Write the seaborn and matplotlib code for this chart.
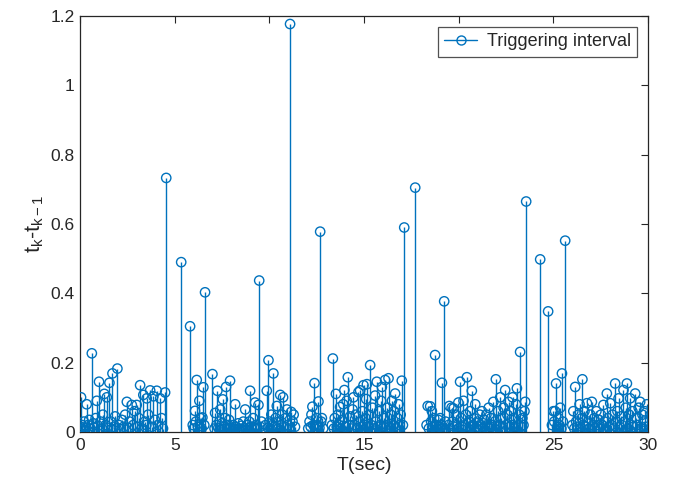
import matplotlib
matplotlib.use("Agg")
import matplotlib.pyplot as plt
from matplotlib.lines import Line2D
from matplotlib.legend_handler import HandlerLine2D
from matplotlib.ticker import FuncFormatter
import numpy as np
import seaborn as sns

t_a = [0.0, 0.03, 0.05, 0.1, 0.15, 0.2, 0.27, 0.35, 0.42, 0.48, 0.55, 0.62, 0.7, 0.76, 0.82, 0.88,
       0.95, 1.0, 1.08, 1.15, 1.2, 1.28, 1.35, 1.41, 1.48, 1.55, 1.62, 1.71, 1.78, 1.85, 1.92, 1.97,
       2.05, 2.12, 2.2, 2.3, 2.38, 2.47, 2.55, 2.62, 2.73, 2.8, 2.88, 2.99, 3.05, 3.1, 3.17, 3.25,
       3.34, 3.42, 3.5, 3.52, 3.6, 3.7, 3.78, 3.87, 3.95, 4.05, 4.12, 4.23, 4.3, 4.38, 4.49, 4.55]
v_a = [0.01, 0.015, 0.10, 0.02, 0.008, 0.03, 0.012, 0.08, 0.02, 0.035, 0.01, 0.227, 0.025, 0.012, 0.04, 0.09,
       0.018, 0.145, 0.03, 0.01, 0.05, 0.11, 0.02, 0.10, 0.012, 0.142, 0.03, 0.169, 0.015, 0.045, 0.01, 0.183,
       0.02, 0.008, 0.035, 0.015, 0.05, 0.087, 0.012, 0.03, 0.078, 0.02, 0.06, 0.078, 0.015, 0.04, 0.135, 0.01,
       0.107, 0.03, 0.02, 0.097, 0.05, 0.12, 0.015, 0.103, 0.035, 0.119, 0.02, 0.097, 0.04, 0.01, 0.114, 0.733]

t_b = [5.34, 5.81, 5.95, 6.0, 6.07, 6.12, 6.16, 6.22, 6.30, 6.36, 6.42, 6.46, 6.51, 6.56, 6.6, 6.99]
v_b = [0.49, 0.305, 0.02, 0.01, 0.061, 0.03, 0.15, 0.015, 0.09, 0.04, 0.01, 0.042, 0.129, 0.02, 0.403, 0.167]

t_c = [7.1, 7.13, 7.2, 7.25, 7.3, 7.36, 7.40, 7.45, 7.5, 7.54, 7.6, 7.66, 7.71, 7.76, 7.82, 7.87,
       7.92, 7.97, 8.02, 8.08, 8.13, 8.19, 8.24, 8.3, 8.35, 8.4, 8.46, 8.52, 8.57, 8.62, 8.67, 8.72,
       8.78, 8.83, 8.88, 8.93, 8.98, 9.03, 9.08, 9.14, 9.19, 9.24, 9.3, 9.36, 9.42, 9.46, 9.52, 9.58]
v_c = [0.01, 0.055, 0.02, 0.119, 0.012, 0.03, 0.065, 0.008, 0.025, 0.094, 0.015, 0.04, 0.13, 0.01, 0.02, 0.035,
       0.148, 0.012, 0.005, 0.02, 0.01, 0.08, 0.015, 0.006, 0.025, 0.01, 0.004, 0.018, 0.008, 0.03, 0.012, 0.065,
       0.005, 0.02, 0.01, 0.03, 0.119, 0.015, 0.008, 0.04, 0.012, 0.085, 0.02, 0.01, 0.078, 0.437, 0.015, 0.03]

t_d = [9.8, 9.86, 9.92, 9.95, 10.0, 10.05, 10.1, 10.16, 10.21, 10.27, 10.33, 10.39, 10.45, 10.51,
       10.57, 10.62, 10.67, 10.72, 10.78, 10.84, 10.92, 10.98, 11.04, 11.09, 11.15, 11.22, 11.28, 11.35]
v_d = [0.02, 0.119, 0.012, 0.207, 0.03, 0.01, 0.05, 0.02, 0.169, 0.015, 0.04, 0.075, 0.01, 0.03,
       0.107, 0.02, 0.05, 0.10, 0.015, 0.04, 0.065, 0.02, 0.01, 1.177, 0.058, 0.03, 0.05, 0.015]

t_e = [12.05, 12.12, 12.18, 12.22, 12.27, 12.32, 12.38, 12.44, 12.5, 12.55, 12.59, 12.64, 12.68, 12.73, 12.77, 12.84]
v_e = [0.01, 0.03, 0.015, 0.05, 0.073, 0.02, 0.141, 0.01, 0.04, 0.02, 0.088, 0.012, 0.578, 0.03, 0.04, 0.01]

t_f = [13.3, 13.35, 13.4, 13.45, 13.51, 13.56, 13.62, 13.67, 13.73, 13.78, 13.84, 13.9, 13.96, 14.02, 14.08, 14.14,
       14.2, 14.26, 14.32, 14.39, 14.44, 14.5, 14.56, 14.62, 14.7, 14.75, 14.79, 14.85, 14.91, 14.97, 15.03, 15.08,
       15.11, 15.15, 15.2, 15.26, 15.32, 15.38, 15.44, 15.5, 15.58, 15.62, 15.67, 15.73, 15.79, 15.85, 15.9, 15.94,
       16.0, 16.05, 16.11, 16.17, 16.23, 16.29, 16.35, 16.41, 16.47, 16.53, 16.58, 16.64, 16.7, 16.76, 16.82, 16.88,
       16.93, 16.99, 17.05, 17.12, 17.7]
v_f = [0.02, 0.212, 0.01, 0.04, 0.11, 0.015, 0.05, 0.02, 0.072, 0.01, 0.035, 0.08, 0.121, 0.015, 0.09, 0.158,
       0.02, 0.045, 0.01, 0.065, 0.10, 0.02, 0.05, 0.012, 0.115, 0.03, 0.12, 0.015, 0.06, 0.135, 0.02, 0.04,
       0.095, 0.138, 0.015, 0.05, 0.193, 0.02, 0.07, 0.01, 0.105, 0.03, 0.145, 0.015, 0.06, 0.02, 0.09, 0.13,
       0.01, 0.04, 0.15, 0.02, 0.07, 0.155, 0.015, 0.05, 0.09, 0.02, 0.06, 0.111, 0.01, 0.04, 0.08, 0.02,
       0.05, 0.148, 0.02, 0.59, 0.705]

t_h = [18.3, 18.36, 18.42, 18.49, 18.54, 18.58, 18.64, 18.7, 18.75, 18.8, 18.86, 18.92, 18.97, 19.02,
       19.07, 19.11, 19.17, 19.23, 19.3]
v_h = [0.02, 0.075, 0.01, 0.074, 0.03, 0.06, 0.015, 0.04, 0.222, 0.02, 0.01, 0.035, 0.015, 0.04,
       0.02, 0.142, 0.01, 0.377, 0.03]

t_i = [19.45, 19.5, 19.56, 19.62, 19.67, 19.72, 19.78, 19.84, 19.9, 19.98, 20.02, 20.07, 20.13, 20.19, 20.25, 20.31,
       20.37, 20.43, 20.49, 20.55, 20.6, 20.65, 20.69, 20.75, 20.81, 20.87, 20.93, 20.99, 21.05, 21.11, 21.17, 21.22,
       21.28, 21.34, 21.4, 21.46, 21.52, 21.58, 21.64, 21.7, 21.76, 21.83, 21.9, 21.96, 22.02, 22.08, 22.14, 22.19,
       22.25, 22.31, 22.37, 22.45, 22.5, 22.56, 22.63, 22.69, 22.75, 22.8, 22.84, 22.9, 22.96, 23.02, 23.07, 23.13,
       23.19, 23.24, 23.3, 23.36, 23.42, 23.47, 23.51, 23.56]
v_i = [0.02, 0.075, 0.01, 0.07, 0.03, 0.068, 0.015, 0.05, 0.02, 0.085, 0.01, 0.145, 0.04, 0.015, 0.09, 0.02,
       0.05, 0.158, 0.01, 0.03, 0.06, 0.015, 0.119, 0.02, 0.04, 0.08, 0.01, 0.03, 0.015, 0.05, 0.02, 0.06,
       0.01, 0.035, 0.015, 0.05, 0.02, 0.07, 0.01, 0.04, 0.02, 0.087, 0.03, 0.152, 0.015, 0.06, 0.02, 0.10,
       0.04, 0.01, 0.07, 0.121, 0.02, 0.05, 0.087, 0.015, 0.06, 0.02, 0.10, 0.04, 0.01, 0.08, 0.126, 0.02,
       0.05, 0.231, 0.015, 0.04, 0.02, 0.06, 0.087, 0.665]

t_j = [24.3, 24.72, 24.92, 25.0, 25.04, 25.09, 25.14, 25.2, 25.26, 25.31, 25.36, 25.42, 25.45, 25.5, 25.62]
v_j = [0.498, 0.348, 0.02, 0.06, 0.03, 0.06, 0.14, 0.015, 0.04, 0.02, 0.07, 0.01, 0.169, 0.03, 0.552]

t_k = [26.0, 26.05, 26.1, 26.15, 26.2, 26.26, 26.32, 26.38, 26.44, 26.5, 26.53, 26.58, 26.64, 26.7, 26.77, 26.83,
       26.89, 26.95, 27.03, 27.09, 27.15, 27.21, 27.27, 27.33, 27.39, 27.45, 27.51, 27.58, 27.64, 27.7, 27.76, 27.82,
       27.88, 27.94, 28.0, 28.06, 28.12, 28.18, 28.26, 28.32, 28.38, 28.44, 28.5, 28.56, 28.62, 28.7, 28.76, 28.82,
       28.88, 28.94, 29.0, 29.05, 29.11, 29.17, 29.23, 29.32, 29.38, 29.44, 29.5, 29.58, 29.64, 29.7, 29.76, 29.82,
       29.88, 29.94, 30.0]
v_k = [0.02, 0.06, 0.01, 0.13, 0.03, 0.015, 0.05, 0.08, 0.01, 0.04, 0.152, 0.02, 0.06, 0.015, 0.083, 0.03,
       0.01, 0.05, 0.087, 0.02, 0.04, 0.01, 0.06, 0.02, 0.035, 0.01, 0.05, 0.02, 0.078, 0.03, 0.01, 0.111,
       0.04, 0.015, 0.083, 0.02, 0.05, 0.01, 0.14, 0.03, 0.06, 0.097, 0.015, 0.045, 0.02, 0.121, 0.03, 0.07,
       0.14, 0.01, 0.05, 0.097, 0.02, 0.06, 0.015, 0.111, 0.04, 0.02, 0.07, 0.087, 0.01, 0.05, 0.03, 0.06,
       0.015, 0.08, 0.003]

bursts_t = [t_a, t_b, t_c, t_d, t_e, t_f, t_h, t_i, t_j, t_k]
bursts_v = [v_a, v_b, v_c, v_d, v_e, v_f, v_h, v_i, v_j, v_k]
for bt, bv in zip(bursts_t, bursts_v):
    assert len(bt) == len(bv), (bt[0], len(bt), len(bv))

t = np.concatenate(bursts_t)
interval = np.concatenate(bursts_v)

blue = "#0072BD"
dark = "#262626"


class EndMarkerHandler(HandlerLine2D):
    # matlab puts the legend marker at the right end of the line sample
    def get_xdata(self, legend, xdescent, ydescent, width, height, fontsize):
        xdata, _ = super().get_xdata(legend, xdescent, ydescent, width, height, fontsize)
        return xdata, np.array([xdata[-1] - 0.15 * fontsize])


sns.set_style("white")
plt.rcParams["font.family"] = ["Liberation Sans", "DejaVu Sans"]
plt.rcParams["mathtext.fontset"] = "custom"
plt.rcParams["mathtext.rm"] = "Liberation Sans"
plt.rcParams["mathtext.it"] = "Liberation Sans"

fig = plt.figure(figsize=(6.73, 4.94), dpi=100)
ax = fig.add_axes([0.119, 0.1255, 0.844, 0.842])

ax.vlines(t, 0, interval, color=blue, linewidth=1.0, zorder=2)
sns.scatterplot(x=t, y=interval, ax=ax, marker="o", s=45, facecolor="none",
                edgecolor=blue, linewidth=1.0, zorder=3)

ax.set_xlim(0, 30)
ax.set_ylim(0, 1.2)
ax.set_xticks([0, 5, 10, 15, 20, 25, 30])
ax.set_yticks([0, 0.2, 0.4, 0.6, 0.8, 1.0, 1.2])
ax.yaxis.set_major_formatter(FuncFormatter(lambda val, pos: f"{val:g}"))
ax.tick_params(direction="in", length=5, width=0.8, top=True, right=True,
               labelsize=12.5, colors=dark, pad=4)
for sp in ax.spines.values():
    sp.set_visible(True)
    sp.set_color(dark)
    sp.set_linewidth(0.9)

ax.set_xlabel("T(sec)", fontsize=14, color=dark, labelpad=3)
ax.set_ylabel(r"$\mathregular{t_k}$-$\mathregular{t_{k-1}}$", fontsize=15.5, color=dark, labelpad=3)

handle = Line2D([], [], color=blue, linewidth=1.0, marker="o", markersize=6.5,
                markerfacecolor="none", markeredgewidth=1.0)
leg = ax.legend([handle], ["Triggering interval"], loc="upper right", fontsize=13,
                handler_map={Line2D: EndMarkerHandler()},
                frameon=True, fancybox=False, edgecolor=dark, borderaxespad=0.6,
                handlelength=1.8, handletextpad=0.55, borderpad=0.35)
leg.get_frame().set_linewidth(0.9)

fig.savefig("out.png", dpi=100)
